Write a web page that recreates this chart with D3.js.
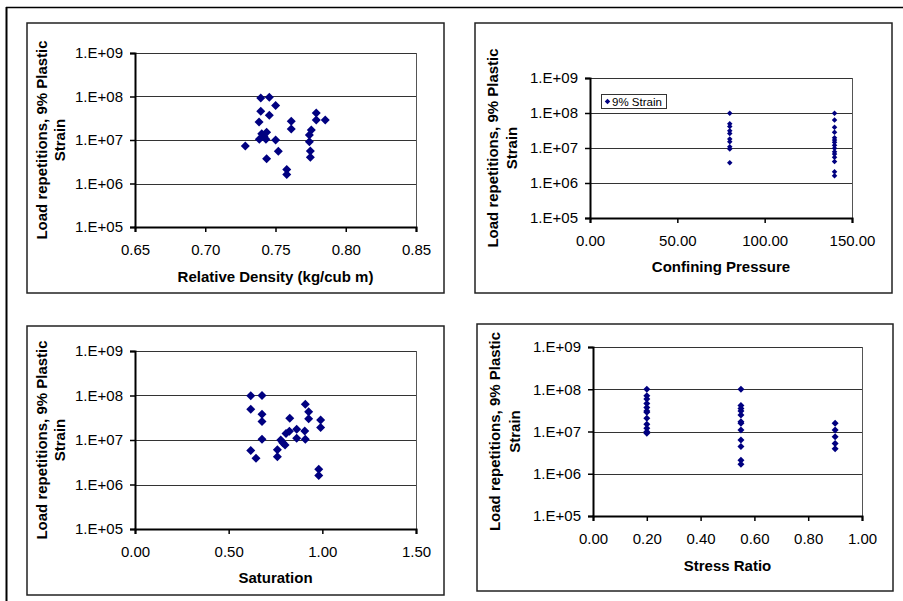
<!DOCTYPE html>
<html>
<head>
<meta charset="utf-8">
<script src="https://cdn.jsdelivr.net/npm/d3@7/dist/d3.min.js"></script>
<style>
  html, body { margin: 0; padding: 0; background: #fff; }
  svg { display: block; font-family: "Liberation Sans", Arial, sans-serif; }
</style>
</head>
<body>
<svg id="chart" width="903" height="601"></svg>
<script>
// Load repetitions to 9% plastic strain against four test variables
const repTicks = [1e5, 1e6, 1e7, 1e8, 1e9];

const densityTicks = [0.65, 0.70, 0.75, 0.80, 0.85];
const densityX = [0.7395, 0.7456, 0.7501, 0.7395, 0.7456, 0.7383, 0.7612, 0.7612, 0.7790, 0.7790,
                  0.7854, 0.7755, 0.7741, 0.7741, 0.7748, 0.7748, 0.7402, 0.7437, 0.7418, 0.7385,
                  0.7432, 0.7285, 0.7501, 0.7520, 0.7437, 0.7580, 0.7580];
const densityN = [9.2e7, 9.6e7, 6.2e7, 4.6e7, 3.7e7, 2.6e7, 2.7e7, 1.8e7, 4.2e7, 2.9e7,
                  2.9e7, 1.7e7, 1.3e7, 9.1e6, 5.6e6, 4.0e6, 1.4e7, 1.5e7, 1.2e7, 1.04e7,
                  1.04e7, 7.3e6, 1.0e7, 5.5e6, 3.7e6, 2.1e6, 1.6e6];

const pressureTicks = [0, 50, 100, 150];
const pressureX = [80, 80, 80, 80, 80, 80, 80, 80, 80, 80,
                   140, 140, 140, 140, 140, 140, 140, 140, 140, 140, 140, 140, 140, 140, 140];
const pressureN = [9.8e7, 4.9e7, 4.1e7, 3.1e7, 2.6e7, 1.8e7, 1.5e7, 1.09e7, 9.4e6, 3.8e6,
                   9.8e7, 6.3e7, 3.9e7, 2.8e7, 1.96e7, 1.7e7, 1.45e7, 1.2e7, 9.8e6, 7.8e6,
                   6.7e6, 5.4e6, 4.1e6, 2.1e6, 1.6e6];

const saturationTicks = [0, 0.5, 1.0, 1.5];
const saturationX = [0.618, 0.678, 0.618, 0.678, 0.678, 0.678, 0.618, 0.646, 0.760, 0.760,
                     0.826, 0.909, 0.927, 0.927, 0.991, 0.991, 0.981, 0.981, 0.778, 0.789,
                     0.801, 0.806, 0.824, 0.863, 0.863, 0.906, 0.909];
const saturationN = [9.9e7, 1.0e8, 4.9e7, 3.8e7, 2.6e7, 1.04e7, 5.8e6, 3.9e6, 6.0e6, 4.2e6,
                     3.1e7, 6.4e7, 4.3e7, 3.0e7, 2.8e7, 1.9e7, 2.2e6, 1.6e6, 1.0e7, 8.7e6,
                     7.7e6, 1.4e7, 1.57e7, 1.74e7, 1.09e7, 1.6e7, 1.04e7];

const stressTicks = [0, 0.2, 0.4, 0.6, 0.8, 1.0];
const stressX = [0.2, 0.2, 0.2, 0.2, 0.2, 0.2, 0.2, 0.2, 0.2, 0.2, 0.2, 0.2,
                 0.55, 0.55, 0.55, 0.55, 0.55, 0.55, 0.55, 0.55, 0.55, 0.55, 0.55, 0.55,
                 0.9, 0.9, 0.9, 0.9, 0.9];
const stressN = [1.0e8, 7.0e7, 5.9e7, 4.6e7, 3.7e7, 3.05e7, 2.85e7, 2.05e7, 1.48e7, 1.19e7, 9.9e6, 9.1e6,
                 1.0e8, 4.1e7, 3.5e7, 3.05e7, 2.45e7, 1.7e7, 1.56e7, 1.09e7, 6.3e6, 4.4e6, 2.1e6, 1.67e6,
                 1.56e7, 1.09e7, 7.5e6, 5.2e6, 3.9e6];

const yTitle1 = "Load repetitions, 9% Plastic";
const yTitle2 = "Strain";
const legendLabel = "9% Strain";
const markerColor = "#000080";

const svg = d3.select("#chart");

// page frame
svg.append("line").attr("x1", 6).attr("x2", 903).attr("y1", 7.5).attr("y2", 7.5)
  .attr("stroke", "#000").attr("stroke-width", 1.5);
svg.append("line").attr("x1", 6.5).attr("x2", 6.5).attr("y1", 7).attr("y2", 601)
  .attr("stroke", "#000").attr("stroke-width", 2);

const panels = [
  { xs: densityX, ys: densityN, ticks: densityTicks, title: "Relative Density (kg/cub m)",
    box: [27, 23, 444, 293], plot: [135, 53, 416, 227], labelY: 250, titleY: 277,
    yt: [42, 60], mark: 9 },
  { xs: pressureX, ys: pressureN, ticks: pressureTicks, title: "Confining Pressure",
    box: [475, 23, 892, 293], plot: [590, 78, 852, 218], labelY: 241, titleY: 267,
    yt: [493, 512], mark: 5.5, legend: true },
  { xs: saturationX, ys: saturationN, ticks: saturationTicks, title: "Saturation",
    box: [27, 326, 444, 595], plot: [135, 351, 416, 529], labelY: 552, titleY: 578,
    yt: [42, 60], mark: 9 },
  { xs: stressX, ys: stressN, ticks: stressTicks, title: "Stress Ratio",
    box: [477, 324, 893, 591], plot: [593, 347, 862, 516], labelY: 539, titleY: 566,
    yt: [495, 515], mark: 7 }
];

const fmtRep = d => "1.E+" + String(Math.round(Math.log10(d))).padStart(2, "0");
const fmtX = d3.format(".2f");
const diamond = w => `M0,${-w / 2}L${w / 2},0L0,${w / 2}L${-w / 2},0Z`;

panels.forEach(p => {
  const g = svg.append("g");
  const [bx0, by0, bx1, by1] = p.box;
  const [px0, py0, px1, py1] = p.plot;

  g.append("rect").attr("x", bx0).attr("y", by0)
    .attr("width", bx1 - bx0).attr("height", by1 - by0)
    .attr("fill", "#fff").attr("stroke", "#222").attr("stroke-width", 1.5);

  const x = d3.scaleLinear().domain(d3.extent(p.ticks)).range([px0, px1]);
  const y = d3.scaleLog().domain([1e5, 1e9]).range([py1, py0]);

  // gridlines
  g.append("g").selectAll("line").data(repTicks.slice(1)).join("line")
    .attr("x1", px0).attr("x2", px1)
    .attr("y1", d => Math.round(y(d)) + 0.5).attr("y2", d => Math.round(y(d)) + 0.5)
    .attr("stroke", "#333").attr("stroke-width", 1);

  // right plot border
  g.append("line").attr("x1", px1 + 0.5).attr("x2", px1 + 0.5).attr("y1", py0).attr("y2", py1)
    .attr("stroke", "#555").attr("stroke-width", 1);

  // y axis
  const yAxis = d3.axisLeft(y).tickValues(repTicks).tickFormat(fmtRep).tickSize(5).tickPadding(7);
  const ya = g.append("g").attr("transform", `translate(${px0},0)`).call(yAxis);
  ya.select(".domain").attr("stroke", "#000").attr("stroke-width", 2);
  ya.selectAll(".tick line").attr("stroke", "#000").attr("stroke-width", 1.5);
  ya.selectAll(".tick text").attr("font-size", 15).attr("fill", "#000")
    .attr("font-family", "'Liberation Sans', Arial, sans-serif");

  // x axis
  const xAxis = d3.axisBottom(x).tickValues(p.ticks).tickFormat(fmtX).tickSize(5).tickSizeOuter(5);
  const xa = g.append("g").attr("transform", `translate(0,${py1})`).call(xAxis);
  xa.select(".domain").attr("stroke", "#000").attr("stroke-width", 2);
  xa.selectAll(".tick line").attr("stroke", "#000").attr("stroke-width", 1.5);
  xa.selectAll(".tick text").attr("font-size", 15).attr("fill", "#000")
    .attr("font-family", "'Liberation Sans', Arial, sans-serif")
    .attr("y", p.labelY - py1).attr("dy", "0.35em");

  // axis titles
  g.append("text").attr("x", (px0 + px1) / 2).attr("y", p.titleY).attr("dy", "0.35em")
    .attr("text-anchor", "middle").attr("font-size", 15).attr("font-weight", "bold")
    .text(p.title);
  const cy = (py0 + py1) / 2;
  [yTitle1, yTitle2].forEach((t, i) => {
    g.append("text")
      .attr("transform", `translate(${p.yt[i]},${cy}) rotate(-90)`)
      .attr("dy", "0.35em").attr("text-anchor", "middle")
      .attr("font-size", 15).attr("font-weight", "bold").text(t);
  });

  // markers
  g.append("g").selectAll("path").data(p.xs.map((v, i) => [v, p.ys[i]])).join("path")
    .attr("d", diamond(p.mark))
    .attr("transform", d => `translate(${x(d[0])},${y(d[1])})`)
    .attr("fill", markerColor);

  if (p.legend) {
    const lg = g.append("g").attr("transform", `translate(${px0 + 11},${py0 + 16})`);
    lg.append("rect").attr("x", 0.5).attr("y", 0.5).attr("width", 65).attr("height", 14)
      .attr("fill", "#fff").attr("stroke", "#333").attr("stroke-width", 1);
    lg.append("path").attr("d", diamond(5.5)).attr("transform", "translate(6.5,7.5)")
      .attr("fill", markerColor);
    lg.append("text").attr("x", 11).attr("y", 7.5).attr("dy", "0.35em")
      .attr("font-size", 11.5).text(legendLabel);
  }
});
</script>
</body>
</html>
